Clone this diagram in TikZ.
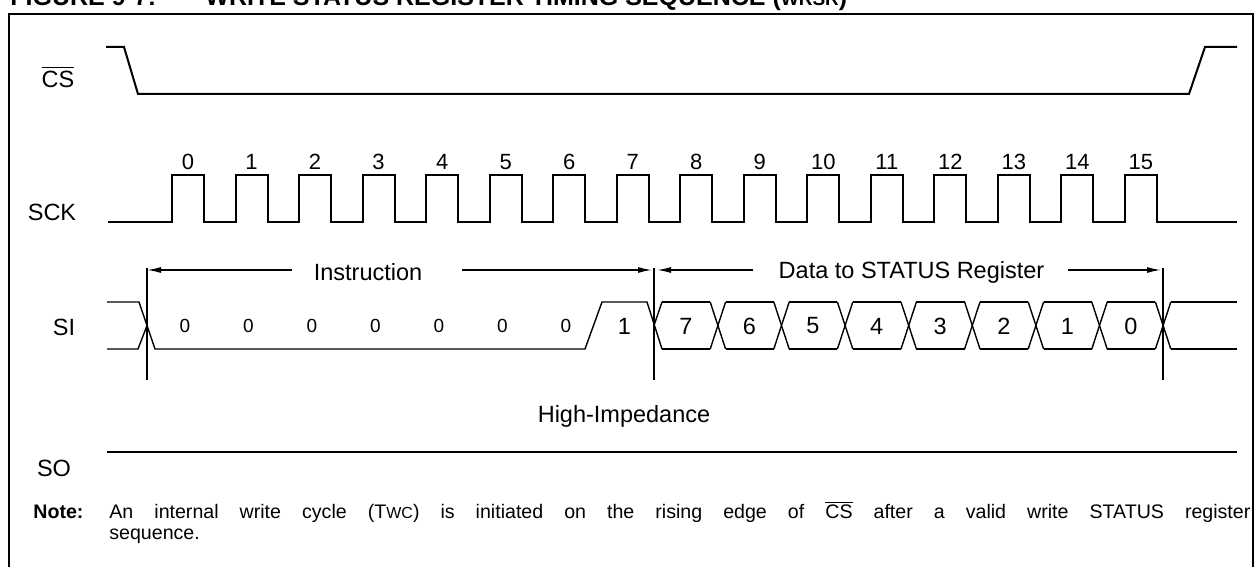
\documentclass[tikz,border=0pt]{standalone}
\usepackage{fontspec}
\setmainfont{Liberation Sans}
\usetikzlibrary{arrows.meta}

\begin{document}
\begin{tikzpicture}[x=0.5pt, y=-0.5pt,
    wave/.style={line width=1pt, line join=miter},
    busline/.style={line width=0.7pt},
    guide/.style={line width=1pt},
    dimarrow/.style={-{Latex[length=7pt,width=3pt]}, line width=0.75pt},
    lbl/.style={font=\fontsize{11.75}{14}\selectfont, inner sep=0pt},
    num/.style={font=\fontsize{11}{13}\selectfont, inner sep=0pt},
    bit/.style={font=\fontsize{9.5}{11}\selectfont, inner sep=0pt},
    note/.style={font=\fontsize{9.8}{12}\selectfont, inner sep=0pt, anchor=west}
  ]
    \useasboundingbox (0,0) rectangle (1260,567);

    % title (cut by the top of the page) and frame
    \node[anchor=base west, inner sep=0pt, font=\bfseries\fontsize{12.5}{15}\selectfont]
      (figno) at (10,6) {FIGURE 9-7:};
    \node[anchor=base west, inner sep=0pt, font=\bfseries\fontsize{12.5}{15}\selectfont]
      (title) at (205,6) {WRITE STATUS REGISTER TIMING SEQUENCE ({\fontsize{9.5}{11}\selectfont WRSR})};
    \draw[line width=1.3pt] (1253,600) -- (1253,14) -- (9,14) -- (9,600);

    % signal names
    \node[lbl] (cs)  at (58,77)  {$\overline{\mbox{CS}}$};
    \node[lbl] (sck) at (52,212) {SCK};
    \node[lbl] (si)  at (64,327) {SI};
    \node[lbl] (so)  at (54,468) {SO};

    % chip select
    \draw[wave] (106,47) -- (124,47) -- (138,94) -- (1189,94) -- (1205,47) -- (1237,47);

    % clock, 16 pulses
    \draw[wave] (108,222)
      \foreach \k in {0,...,15} {
        -- ({172+63.53*\k},222) -- ({172+63.53*\k},175)
        -- ({204+63.53*\k},175) -- ({204+63.53*\k},222)
      } -- (1237,222);
    \foreach \k in {0,...,15}
      \node[num] (clk\k) at ({188+63.53*\k},162) {\k};

    % serial in: instruction
    \draw[busline] (107,302) -- (139,302) -- (155,349) -- (585,349) -- (602,302)
      -- (647,302) -- (662,349);
    \draw[busline] (107,349) -- (138,349) -- (147,325.5);
    \draw[busline] (654,325.5) -- (662,302);
    \foreach \i in {0,...,6}
      \node[bit] (ibit\i) at ({185+63.5*\i},326) {0};
    \node[lbl] (ibit7) at (624.5,326) {1};

    % serial in: data bits
    \foreach \v [count=\i from 0] in {7,6,5,4,3,2,1,0} {
      \draw[busline] ({662+63.6*\i},302) -- ({646.6+63.6*(\i+1)},302);
      \draw[busline] ({662+63.6*\i},349) -- ({646.6+63.6*(\i+1)},349);
      \draw[busline] ({646.6+63.6*(\i+1)},302) -- ({662+63.6*(\i+1)},349);
      \draw[busline] ({646.6+63.6*(\i+1)},349) -- ({662+63.6*(\i+1)},302);
      \node[lbl] (dbit\v) at ({685.8+63.6*\i},326) {\v};
    }
    \draw[busline] (1171,302) -- (1237,302);
    \draw[busline] (1171,349) -- (1237,349);

    % boundaries of the two fields
    \coordinate (m0t) at (147,268);
    \coordinate (m0b) at (147,380);
    \coordinate (m1t) at (654,268);
    \coordinate (m1b) at (654,380);
    \coordinate (m2t) at (1163,268);
    \coordinate (m2b) at (1163,380);
    \draw[guide] (m0t) -- (m0b);
    \draw[guide] (m1t) -- (m1b);
    \draw[guide] (m2t) -- (m2b);

    \node[lbl] (instr) at (368,272) {Instruction};
    \coordinate (ia) at (292,270);
    \coordinate (ib) at (462,270);
    \draw[dimarrow] (ia) -- (m0t |- ia);
    \draw[dimarrow, shorten >=1pt] (ib) -- (m1t |- ib);

    \node[lbl] (data) at (911.5,272) {Data to STATUS Register};
    \coordinate (da) at (753,270);
    \coordinate (db) at (1068,270);
    \draw[dimarrow, shorten >=1.5pt] (da) -- (m1t |- da);
    \draw[dimarrow, shorten >=1pt] (db) -- (m2t |- db);

    % serial out
    \node[lbl] (hiz) at (624,416) {High-Impedance};
    \draw[wave] (107,452) -- (1237,452);

    % note
    \node[note, font=\bfseries\fontsize{9.8}{12}\selectfont] (notehd) at (33,512) {Note:};
    \node[note] (notel1) at (109,512) {\makebox[570.5pt][s]{An internal write cycle
      (T{\fontsize{8}{10}\selectfont WC}) is initiated on the rising edge of
      $\overline{\mbox{CS}}$ after a valid write STATUS register}};
    \node[note] (notel2) at (109,536) {sequence.};
  \end{tikzpicture}
\end{document}
